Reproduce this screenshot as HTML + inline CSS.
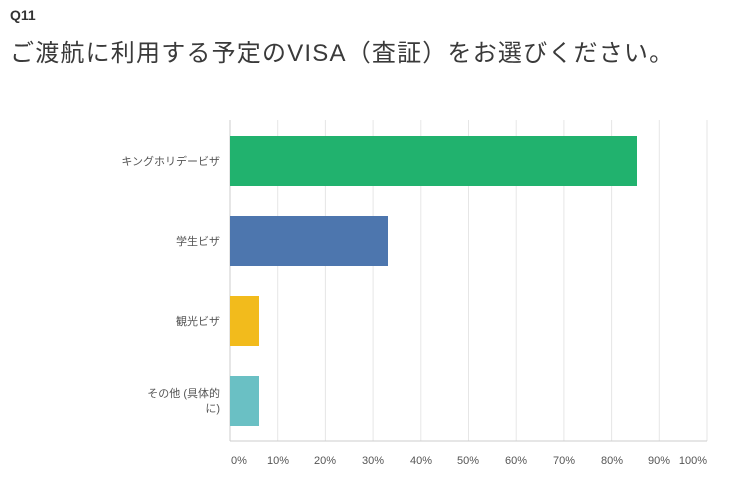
<!DOCTYPE html>
<html><head><meta charset="utf-8"><style>
body{margin:0;width:755px;height:490px;background:#fff;font-family:"Liberation Sans","Noto Sans CJK JP",sans-serif;overflow:hidden;position:relative}
.t{position:absolute;white-space:nowrap}
</style></head><body>
<div class="t" style="left:10px;top:7px;font-size:14px;font-weight:bold;color:#333">Q11</div>
<div class="t" style="left:10px;top:33px;font-size:24px;color:#3a3a3a;letter-spacing:1.2px">ご渡航に利用する予定のVISA（査証）をお選びください。</div>
<svg width="755" height="490" style="position:absolute;left:0;top:0" font-family="Liberation Sans, Noto Sans CJK JP, sans-serif" font-size="11" fill="#555">
<g stroke="#e6e6e6" stroke-width="1">
<line x1="277.7" y1="120" x2="277.7" y2="441"/><line x1="325.4" y1="120" x2="325.4" y2="441"/><line x1="373.1" y1="120" x2="373.1" y2="441"/><line x1="420.8" y1="120" x2="420.8" y2="441"/><line x1="468.5" y1="120" x2="468.5" y2="441"/><line x1="516.2" y1="120" x2="516.2" y2="441"/><line x1="563.9" y1="120" x2="563.9" y2="441"/><line x1="611.6" y1="120" x2="611.6" y2="441"/><line x1="659.3" y1="120" x2="659.3" y2="441"/><line x1="707" y1="120" x2="707" y2="441"/>
</g>
<line x1="230" y1="120" x2="230" y2="441" stroke="#ccc"/>
<line x1="230" y1="441" x2="707" y2="441" stroke="#ccc"/>
<rect x="230" y="136" width="407" height="50" fill="#21b26e"/>
<rect x="230" y="216" width="158" height="50" fill="#4d76ae"/>
<rect x="230" y="296" width="29" height="50" fill="#f2bb1c"/>
<rect x="230" y="376" width="29" height="50" fill="#6ac0c4"/>
<g text-anchor="end">
<text x="220" y="165">キングホリデービザ</text>
<text x="220" y="245">学生ビザ</text>
<text x="220" y="325">観光ビザ</text>
<text x="220" y="397">その他 (具体的</text>
<text x="220" y="412">に)</text>
</g>
<g text-anchor="middle">
<text x="239" y="464">0%</text><text x="278" y="464">10%</text><text x="325" y="464">20%</text><text x="373" y="464">30%</text><text x="421" y="464">40%</text><text x="468" y="464">50%</text><text x="516" y="464">60%</text><text x="564" y="464">70%</text><text x="612" y="464">80%</text><text x="659" y="464">90%</text><text x="693" y="464">100%</text>
</g>
</svg>
</body></html>
